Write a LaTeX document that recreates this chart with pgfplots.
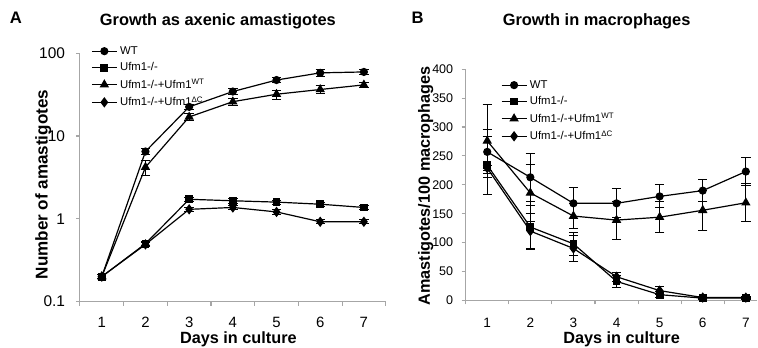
\documentclass[border=0pt]{standalone}
\usepackage{pgfplots}
\pgfplotsset{compat=1.18}
\usepackage{fontspec}
\setmainfont{Liberation Sans}
\begin{document}
\begin{tikzpicture}
\path (0,0) rectangle (568.5pt,261pt);
\pgfplotsset{
  every axis/.append style={
    scale only axis,
    axis x line=bottom, axis y line=left,
    axis line style={-, gray!70, line width=0.8pt},
    tick style={gray!70, line width=0.8pt},
    tick align=outside,
    xmin=0.5,
    xtick={1,...,7},
    major x tick style={draw=none},
    minor xtick={0.5,1.5,...,7.5},
    minor tick length=3pt,
    major tick length=3pt,
    /pgf/number format/assume math mode=true,
    ticklabel style={inner sep=0pt},
    xticklabel style={anchor=north, yshift=-8.8pt},
    legend cell align=left,
    legend style={draw=none, fill=none, inner sep=0pt, row sep=0.8pt,
      font=\fontsize{8.5}{10}\selectfont, anchor=north west},
    legend image code/.code={\draw[mark repeat=2,mark phase=2] plot coordinates {(0pt,0pt) (9.4pt,0pt) (18.8pt,0pt)};},
    clip=false,
  },
  ser/.style={black, line width=0.9pt, mark options={solid, fill=black},
    error bars/y dir=both, error bars/y explicit,
    error bars/error bar style={black, line width=0.7pt},
    error bars/error mark options={rotate=90, black, mark size=3.5pt, line width=0.7pt}},
}
% Panel A
\begin{axis}[
  at={(60pt,34.7pt)}, anchor=south west,
  width=229.5pt, height=186.3pt,
  xmax=7.5,
  ymode=log, ymin=0.1, ymax=100,
  ytick={0.1,1,10,100}, yticklabels={0.1,1,10,100},
  yminorticks=false,
  xticklabel style={font=\fontsize{11.2}{13}\selectfont},
  yticklabel style={font=\fontsize{11.6}{13}\selectfont, anchor=east, xshift=-8pt},
  legend style={at={(0.036,1.04)}},
]
\addplot[ser, mark=*, mark size=2.6pt] coordinates {
 (1,0.2) +- (0,0.01) (2,6.5) +- (0,0.5) (3,22.5) +- (0,1.5) (4,34.5) +- (0,3)
 (5,47.5) +- (0,3) (6,58) +- (0,5) (7,59.5) +- (0,4)};
\addlegendentry{WT}
\addplot[ser, mark=square*, mark size=2.5pt] coordinates {
 (1,0.2) +- (0,0.01) (2,0.5) +- (0,0.03) (3,1.72) +- (0,0.1) (4,1.65) +- (0,0.1)
 (5,1.59) +- (0,0.08) (6,1.5) +- (0,0.08) (7,1.37) +- (0,0.08)};
\addlegendentry{Ufm1-/-}
\addplot[ser, mark=triangle*, mark size=3.2pt] coordinates {
 (1,0.2) +- (0,0.01) (2,4.2) +- (0,0.9) (3,17) +- (0,1.5) (4,26) +- (0,2.5)
 (5,32) +- (0,4) (6,36.5) +- (0,4) (7,41.5) +- (0,3)};
\addlegendentry{Ufm1-/-+Ufm1\textsuperscript{WT}}
\addplot[ser, mark=diamond*, mark size=3.2pt] coordinates {
 (1,0.2) +- (0,0.01) (2,0.49) +- (0,0.03) (3,1.3) +- (0,0.06) (4,1.37) +- (0,0.08)
 (5,1.21) +- (0,0.07) (6,0.92) +- (0,0.05) (7,0.92) +- (0,0.05)};
\addlegendentry{Ufm1-/-+Ufm1\textsuperscript{ΔC}}
\end{axis}
% Panel B
\begin{axis}[
  at={(349.5pt,35.5pt)}, anchor=south west,
  width=219pt, height=173.55pt,
  xmax=7.27,
  minor xtick={0.5,1.5,...,6.5},
  ymin=0, ymax=400,
  ytick={0,50,...,400},
  xticklabel style={font=\fontsize{10.2}{12}\selectfont, yshift=-1pt},
  yticklabel style={font=\fontsize{9.4}{11}\selectfont, anchor=east, xshift=-6.2pt},
  legend style={at={(0.12,0.965)}},
]
\addplot[ser, mark=*, mark size=2.6pt] coordinates {
 (1,257) +- (0,38) (2,213) +- (0,42) (3,168) +- (0,27) (4,168) +- (0,25)
 (5,180) +- (0,20) (6,190) +- (0,19) (7,223) +- (0,24)};
\addlegendentry{WT}
\addplot[ser, mark=square*, mark size=2.5pt] coordinates {
 (1,234) +- (0,50) (2,127) +- (0,38) (3,98) +- (0,20) (4,33) +- (0,10)
 (5,10) +- (0,5) (6,4) +- (0,3) (7,4) +- (0,2)};
\addlegendentry{Ufm1-/-}
\addplot[ser, mark=triangle*, mark size=3.2pt] coordinates {
 (1,276) +- (0,63) (2,186) +- (0,49) (3,146) +- (0,22) (4,139) +- (0,33)
 (5,144) +- (0,27) (6,156) +- (0,35) (7,169) +- (0,33)};
\addlegendentry{Ufm1-/-+Ufm1\textsuperscript{WT}}
\addplot[ser, mark=diamond*, mark size=3.2pt] coordinates {
 (1,229) +- (0,5) (2,120) +- (0,30) (3,90) +- (0,22) (4,41) +- (0,8)
 (5,17) +- (0,7) (6,5) +- (0,2) (7,5) +- (0,2)};
\addlegendentry{Ufm1-/-+Ufm1\textsuperscript{ΔC}}
\end{axis}
% titles and labels
\node[anchor=base, inner sep=0pt, font=\fontsize{12.5}{14}\bfseries\selectfont] at (12pt,243pt) {A};
\node[anchor=base, inner sep=0pt, font=\fontsize{12.3}{14}\bfseries\selectfont] at (163.5pt,241.7pt) {Growth as axenic amastigotes};
\node[anchor=base, inner sep=0pt, font=\fontsize{12.5}{14}\bfseries\selectfont] at (313.5pt,243pt) {B};
\node[anchor=base, inner sep=0pt, font=\fontsize{12.3}{14}\bfseries\selectfont] at (447.75pt,241.7pt) {Growth in macrophages};
\node[anchor=base, inner sep=0pt, font=\fontsize{12.2}{14}\bfseries\selectfont] at (178.9pt,3.5pt) {Days in culture};
\node[anchor=base, inner sep=0pt, font=\fontsize{12.2}{14}\bfseries\selectfont] at (466.5pt,3.5pt) {Days in culture};
\node[rotate=90, inner sep=0pt, font=\fontsize{12.8}{14}\bfseries\selectfont] at (32.5pt,122.5pt) {Number of amastigotes};
\node[rotate=90, inner sep=0pt, font=\fontsize{12.2}{14}\bfseries\selectfont] at (319.5pt,121.5pt) {Amastigotes/100 macrophages};
\end{tikzpicture}
\end{document}
